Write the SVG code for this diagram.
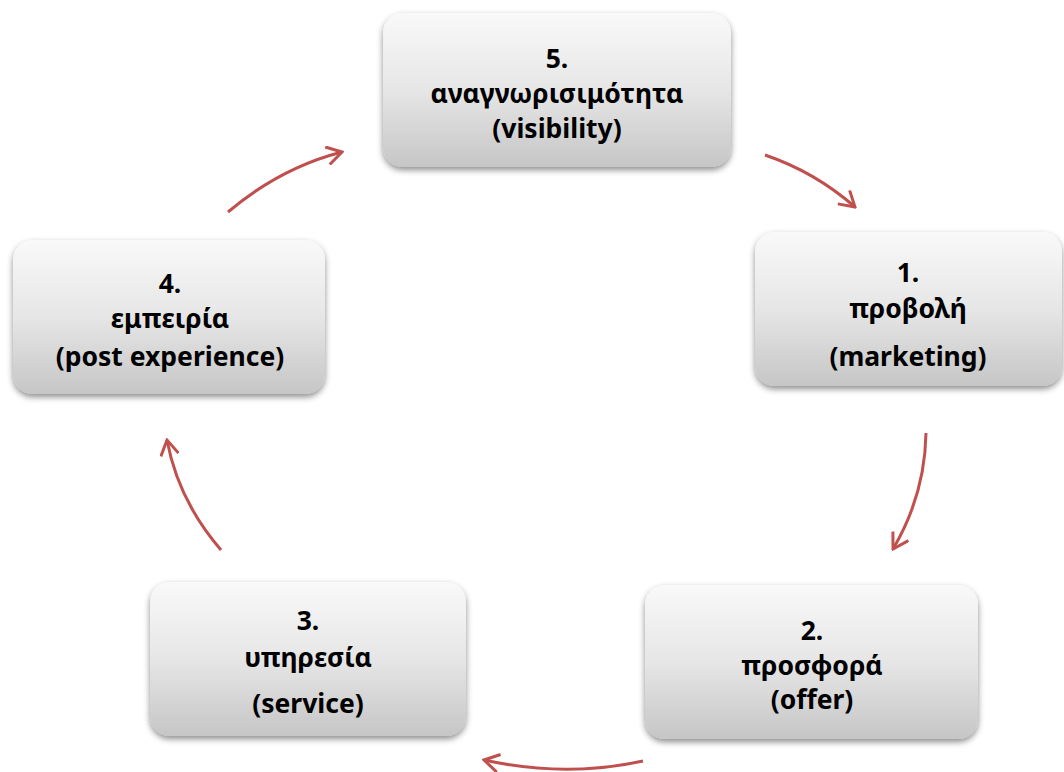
<svg xmlns="http://www.w3.org/2000/svg" width="1064" height="772" viewBox="0 0 1064 772">
<style>
.box{fill:url(#g);filter:url(#sh)}
.t{font-family:"Noto Sans","Open Sans","DejaVu Sans",sans-serif;font-weight:bold;font-size:26.5px;fill:#000;text-anchor:middle}
.c{fill:none;stroke:#c0504d;stroke-width:3;marker-end:url(#ah)}
</style>
<defs>
<linearGradient id="g" x1="0" y1="0" x2="0" y2="1">
<stop offset="0" stop-color="#f9f9f9"/>
<stop offset="0.5" stop-color="#e6e6e6"/>
<stop offset="1" stop-color="#c6c6c6"/>
</linearGradient>
<filter id="sh" x="-10%" y="-10%" width="120%" height="130%">
<feDropShadow dx="0" dy="3" stdDeviation="3" flood-color="#000" flood-opacity="0.45"/>
</filter>
<marker id="ah" viewBox="0 0 20 20" refX="18" refY="10" markerWidth="20" markerHeight="20" markerUnits="userSpaceOnUse" orient="auto">
<path d="M3,1 L18,10 L3,19" fill="none" stroke="#c0504d" stroke-width="3"/>
</marker>
</defs>
<g id="connectors">
<path class="c" d="M765,155 Q815,172 855,207"/>
<path class="c" d="M926,433 Q925,495 893,549"/>
<path class="c" d="M643,761 Q565,778 484,760"/>
<path class="c" d="M221,550 Q178,500 167,440"/>
<path class="c" d="M228,212 Q280,168 342,152"/>
</g>
<g id="node5">
<rect class="box" x="383" y="13" width="348" height="154" rx="20"/>
<text class="t" x="557" y="68">5.</text>
<text class="t" x="557" y="103">αναγνωρισιμότητα</text>
<text class="t" x="557" y="138">(visibility)</text>
</g>
<g id="node1">
<rect class="box" x="755" y="232" width="307" height="154" rx="20"/>
<text class="t" x="908" y="282">1.</text>
<text class="t" x="908" y="318">προβολή</text>
<text class="t" x="908" y="366">(marketing)</text>
</g>
<g id="node2">
<rect class="box" x="645" y="585" width="333" height="154" rx="20"/>
<text class="t" x="812" y="640">2.</text>
<text class="t" x="812" y="675">προσφορά</text>
<text class="t" x="812" y="709">(offer)</text>
</g>
<g id="node3">
<rect class="box" x="150" y="582" width="316" height="154" rx="20"/>
<text class="t" x="308" y="630">3.</text>
<text class="t" x="308" y="667">υπηρεσία</text>
<text class="t" x="308" y="713">(service)</text>
</g>
<g id="node4">
<rect class="box" x="13" y="240" width="312" height="154" rx="20"/>
<text class="t" x="170" y="293">4.</text>
<text class="t" x="170" y="328">εμπειρία</text>
<text class="t" x="170" y="366">(post experience)</text>
</g>
</svg>
